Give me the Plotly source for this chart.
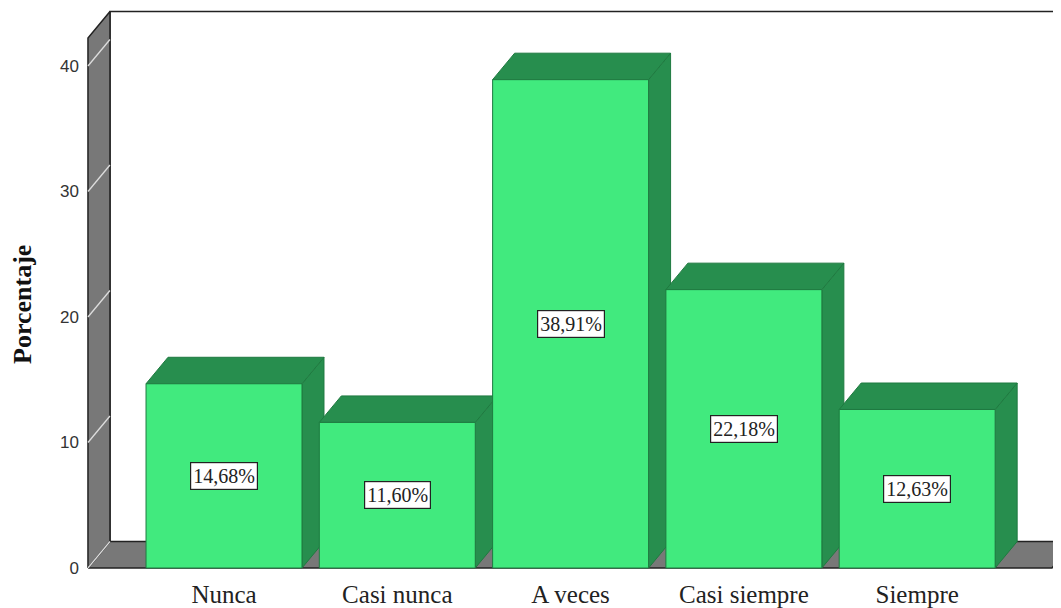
import plotly.graph_objects as go

# ---- data ----
categories = ["Nunca", "Casi nunca", "A veces", "Casi siempre", "Siempre"]
percentages = [14.68, 11.60, 38.91, 22.18, 12.63]
y_ticks = [0, 10, 20, 30, 40]
value_labels = ["14,68%", "11,60%", "38,91%", "22,18%", "12,63%"]
y_title = "Porcentaje"

# ---- style / geometry (pseudo-3D) ----
FRONT = "#41EA7E"
DARK = "#278E4E"
EDGE = "#1F7A40"
WALL = "#787878"
BW = 0.9            # bar width in category units
DX = 0.127          # depth offset along x (category units)
DY = 2.11           # depth offset along y (value units)
X0 = -0.785         # front edge of left wall
XF = 4.778          # front right end of floor
WALL_TOP = 42.23    # front top of left wall

# page body has an 8px margin: figure is sized to the visible area
W, H = 1053, 600
ML, MB = 72, 30
x_range = [-0.831, 4.830]
y_range = [-0.797, 44.62]

fig = go.Figure()

def poly(xs, ys, fill, line_color, lw=1.0):
    fig.add_trace(go.Scatter(
        x=xs + [xs[0]], y=ys + [ys[0]], mode="lines", fill="toself",
        fillcolor=fill, line=dict(color=line_color, width=lw),
        hoverinfo="skip", showlegend=False))

def line(xs, ys, color, lw=1.0):
    fig.add_trace(go.Scatter(
        x=xs, y=ys, mode="lines", line=dict(color=color, width=lw),
        hoverinfo="skip", showlegend=False))

# floor
poly([X0, XF, XF + DX, X0 + DX], [0, 0, DY, DY], WALL, "#222222", 1.5)
# back wall border (top + left)
line([X0 + DX, X0 + DX, x_range[1] + 1], [DY, WALL_TOP + DY, WALL_TOP + DY], "#222222", 1.5)
# left wall
poly([X0, X0, X0 + DX, X0 + DX], [0, WALL_TOP, WALL_TOP + DY, DY], WALL, "#222222", 1.5)
# tick lines on the left wall
for v in y_ticks:
    line([X0, X0 + DX], [v, v + DY], "#DDDDDD", 1.3)

# bars
for i, v in enumerate(percentages):
    l, r = i - BW / 2, i + BW / 2
    # right side
    poly([r, r + DX, r + DX, r], [0, DY, v + DY, v], DARK, EDGE, 1)
    # top
    poly([l, r, r + DX, l + DX], [v, v, v + DY, v + DY], DARK, EDGE, 1)
    # front
    poly([l, r, r, l], [0, 0, v, v], FRONT, EDGE, 1)

# value labels
for i, (v, t) in enumerate(zip(percentages, value_labels)):
    fig.add_annotation(x=i, y=v / 2, text=t, showarrow=False,
                       font=dict(family="Liberation Serif", size=20, color="#222222"),
                       bgcolor="white", bordercolor="#222222", borderwidth=1.2,
                       borderpad=2)

# y title
fig.add_annotation(xref="paper", yref="paper", x=(14 - ML) / (W - ML),
                   y=(H - 297 - MB) / (H - MB), text="<b>" + y_title + "</b>",
                   textangle=-90, showarrow=False, xanchor="center", yanchor="middle",
                   font=dict(family="Liberation Serif", size=26, color="#111111"))

fig.update_layout(
    width=W, height=H,
    margin=dict(l=ML, r=0, t=0, b=MB, pad=0),
    paper_bgcolor="white", plot_bgcolor="white",
    showlegend=False,
    xaxis=dict(range=x_range, showgrid=False, zeroline=False, showline=False,
               tickmode="array", tickvals=list(range(len(categories))), ticktext=categories,
               tickfont=dict(family="Liberation Serif", size=25, color="#222222"),
               ticks="", ticklabelstandoff=-1, fixedrange=True),
    yaxis=dict(range=y_range, showgrid=False, zeroline=False, showline=False,
               tickmode="array", tickvals=y_ticks, ticktext=[str(t) for t in y_ticks],
               tickfont=dict(family="Liberation Sans", size=17, color="#333333"),
               ticks="", ticklabelstandoff=0, fixedrange=True),
)

fig.write_html("out.html", config={"displayModeBar": False})
